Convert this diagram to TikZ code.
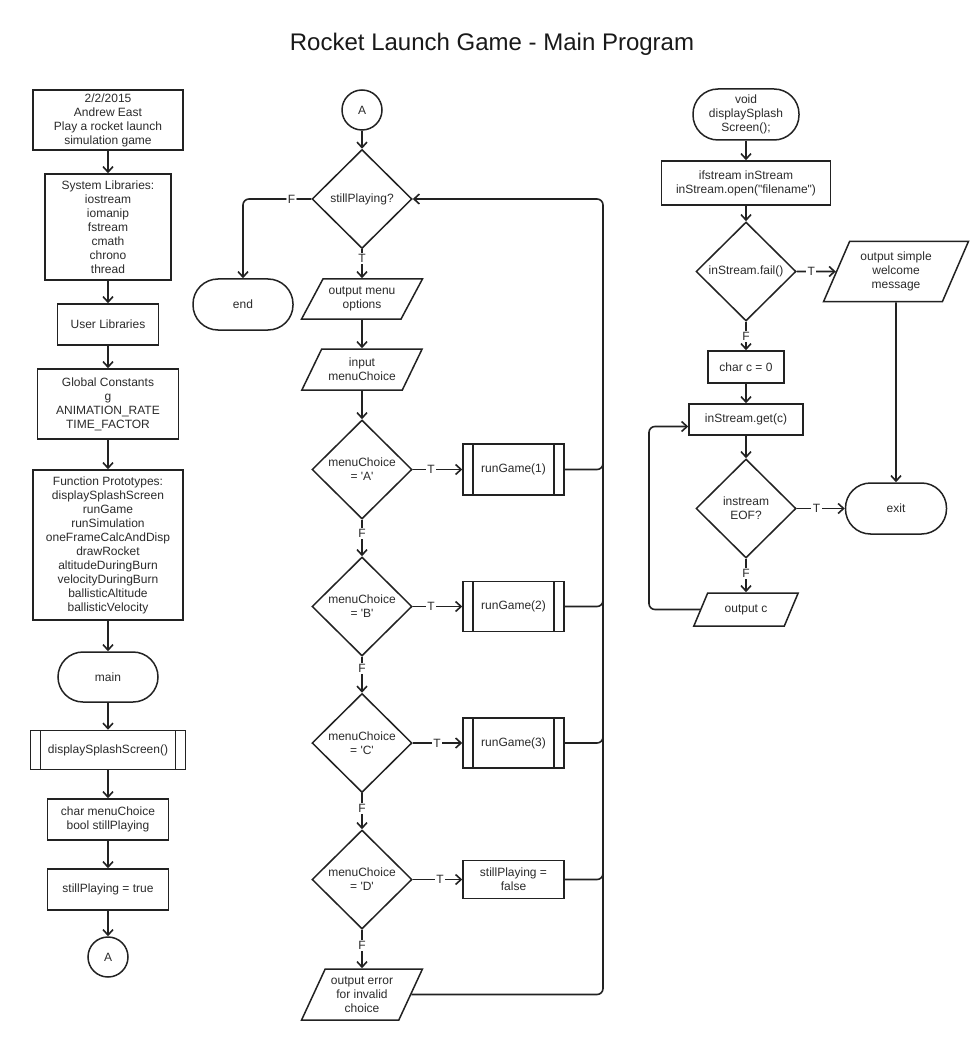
\documentclass[tikz,border=0pt]{standalone}
\usepackage{fontspec}
\setmainfont{Liberation Sans}
\usetikzlibrary{shapes.geometric, arrows.meta}
\definecolor{ink}{HTML}{222222}
\definecolor{txt}{HTML}{2B2B2B}

\begin{document}
\begin{tikzpicture}[x=1pt, y=-1pt,
  every node/.style={font=\fontsize{12}{14}\selectfont, text=txt, align=center, inner sep=0pt},
  shp/.style={draw=ink, line width=1.5pt, fill=white},
  proc/.style 2 args={shp, rectangle, minimum width=#1, minimum height=#2},
  term/.style 2 args={shp, rectangle, rounded corners=25pt, minimum width=#1, minimum height=#2},
  sub/.style 2 args={proc={#1}{#2},
    path picture={\draw[ink, line width=1.5pt]
      ([xshift=10pt]path picture bounding box.north west) -- ([xshift=10pt]path picture bounding box.south west)
      ([xshift=-10pt]path picture bounding box.north east) -- ([xshift=-10pt]path picture bounding box.south east);}},
  decide/.style={shp, diamond, minimum width=100pt, minimum height=99pt},
  io/.style={shp, trapezium, trapezium stretches=true},
  circ/.style={shp, circle, minimum size=40pt},
  wire/.style={draw=ink, line width=1.6pt},
  conn/.style={wire, -{Straight Barb[length=5.5pt,width=10pt]}},
  lbl/.style={fill=white, inner sep=1.5pt},
]
\fill[white] (0,0) rectangle (976,1040);
\useasboundingbox (0,0) rectangle (976,1040);

\node[font=\fontsize{24}{28}\selectfont, text=black!90] (title) at (492,44) {Rocket Launch Game - Main Program};

% ---- main program set-up column
\node[proc={150pt}{60pt}] (hdr) at (108,120) {2/2/2015\\Andrew East\\Play a rocket launch\\simulation game};
\node[proc={126pt}{106pt}] (syslib) at (108,227) {System Libraries:\\iostream\\iomanip\\fstream\\cmath\\chrono\\thread};
\node[proc={101pt}{41pt}] (usrlib) at (108,324.5) {User Libraries};
\node[proc={141pt}{70pt}] (glob) at (108,404) {Global Constants\\g\\ANIMATION\_RATE\\TIME\_FACTOR};
\node[proc={150pt}{150pt}] (proto) at (108,545) {Function Prototypes:\\displaySplashScreen\\runGame\\runSimulation\\oneFrameCalcAndDisp\\drawRocket\\altitudeDuringBurn\\velocityDuringBurn\\ballisticAltitude\\ballisticVelocity};
\node[term={100pt}{50pt}] (main) at (108,677) {main};
\node[sub={155pt}{39pt}] (dss) at (108,750) {displaySplashScreen()};
\node[proc={121pt}{41pt}] (decl) at (108,819.5) {char menuChoice\\bool stillPlaying};
\node[proc={121pt}{41pt}] (init) at (108,889.5) {stillPlaying = true};
\node[circ] (aout) at (108,957) {A};

\draw[conn] (hdr) -- (syslib);
\draw[conn] (syslib) -- (usrlib);
\draw[conn] (usrlib) -- (glob);
\draw[conn] (glob) -- (proto);
\draw[conn] (proto) -- (main);
\draw[conn] (main) -- (dss);
\draw[conn] (dss) -- (decl);
\draw[conn] (decl) -- (init);
\draw[conn] (init) -- (aout);

% ---- game loop column
\node[circ] (ain) at (362,110) {A};
\node[decide] (play) at (362,199) {stillPlaying?};
\node[term={100pt}{51pt}] (end) at (243,304.5) {end};
\node[io, minimum width=121pt, minimum height=40pt, trapezium left angle=53, trapezium right angle=127] (menu) at (362,299) {output menu\\options};
\node[io, minimum width=121pt, minimum height=41pt, trapezium left angle=54, trapezium right angle=126] (choice) at (362,369.5) {input\\menuChoice};
\node[decide] (dA) at (362,469.5) {menuChoice\\= \textquotesingle A\textquotesingle};
\node[decide] (dB) at (362,606.5) {menuChoice\\= \textquotesingle B\textquotesingle};
\node[decide] (dC) at (362,743) {menuChoice\\= \textquotesingle C\textquotesingle};
\node[decide] (dD) at (362,879.5) {menuChoice\\= \textquotesingle D\textquotesingle};
\node[sub={101pt}{51pt}] (rg1) at (513.5,469.5) {runGame(1)};
\node[sub={101pt}{50pt}] (rg2) at (513.5,606.5) {runGame(2)};
\node[sub={101pt}{50pt}] (rg3) at (513.5,743) {runGame(3)};
\node[proc={101pt}{38pt}] (quit) at (513.5,879.5) {stillPlaying =\\false};
\node[io, minimum width=121pt, minimum height=51pt, trapezium left angle=61, trapezium right angle=119] (err) at (362,994.5) {output error\\for invalid\\choice};
\coordinate (trunk) at (603,0);

\draw[conn] (ain) -- (play);
\draw[conn, rounded corners=6pt] (play.west) -- node[lbl, pos=0.29]{F} (end.north |- play.west) -- (end.north);
\draw[conn] (play) -- node[lbl, pos=0.32]{T} (menu);
\draw[conn] (menu) -- (choice);
\draw[conn] (choice) -- (dA);
\draw[conn] (dA) -- node[lbl, pos=0.37]{T} (rg1);
\draw[conn] (dB) -- node[lbl, pos=0.37]{T} (rg2);
\draw[conn] (dC) -- node[lbl, pos=0.49]{T} (rg3);
\draw[conn] (dD) -- node[lbl, pos=0.55]{T} (quit);
\draw[conn] (dA) -- node[lbl, pos=0.37]{F} (dB);
\draw[conn] (dB) -- node[lbl, pos=0.32]{F} (dC);
\draw[conn] (dC) -- node[lbl, pos=0.42]{F} (dD);
\draw[conn] (dD) -- node[lbl, pos=0.40]{F} (err);
\draw[conn, rounded corners=6pt] (err.east) -- (trunk |- err.east) -- (trunk |- play.east) -- (play.east);
\draw[wire, rounded corners=6pt] (rg1.east) -- (trunk |- rg1.east) -- ++(0,-12);
\draw[wire, rounded corners=6pt] (rg2.east) -- (trunk |- rg2.east) -- ++(0,-12);
\draw[wire, rounded corners=6pt] (rg3.east) -- (trunk |- rg3.east) -- ++(0,-12);
\draw[wire, rounded corners=6pt] (quit.east) -- (trunk |- quit.east) -- ++(0,-12);

% ---- splash screen function column
\node[term={106pt}{51pt}] (splash) at (746,114.5) {void\\displaySplash\\Screen();};
\node[proc={169pt}{44pt}] (open) at (746,183) {ifstream inStream\\inStream.open(\textquotedbl filename\textquotedbl)};
\node[decide] (fail) at (746,271.5) {inStream.fail()};
\node[io, minimum width=145pt, minimum height=60pt, trapezium left angle=63, trapezium right angle=117] (welcome) at (896,271.5) {output simple\\welcome\\message};
\node[proc={76pt}{32pt}] (charc) at (746,367) {char c = 0};
\node[proc={114pt}{31pt}] (get) at (746,419.5) {inStream.get(c)};
\node[decide] (eof) at (746,508.5) {instream\\EOF?};
\node[term={101pt}{51pt}] (exit) at (896,508.5) {exit};
\node[io, minimum width=105pt, minimum height=33pt, trapezium left angle=53, trapezium right angle=127] (outc) at (746,609.5) {output c};
\coordinate (loopx) at (649,0);
\coordinate (getin) at ([yshift=-7pt]get.west);

\draw[conn] (splash) -- (open);
\draw[conn] (open) -- (fail);
\draw[conn] (fail) -- node[lbl, pos=0.37]{T} (welcome);
\draw[conn] (welcome) -- (exit);
\draw[conn] (fail) -- node[lbl, pos=0.53]{F} (charc);
\draw[conn] (charc) -- (get);
\draw[conn] (get) -- (eof);
\draw[conn] (eof) -- node[lbl, pos=0.41]{T} (exit);
\draw[conn] (eof) -- node[lbl, pos=0.43]{F} (outc);
\draw[conn, rounded corners=6pt] (outc.west) -- (loopx |- outc.west) -- (loopx |- getin) -- (getin);
\end{tikzpicture}
\end{document}
